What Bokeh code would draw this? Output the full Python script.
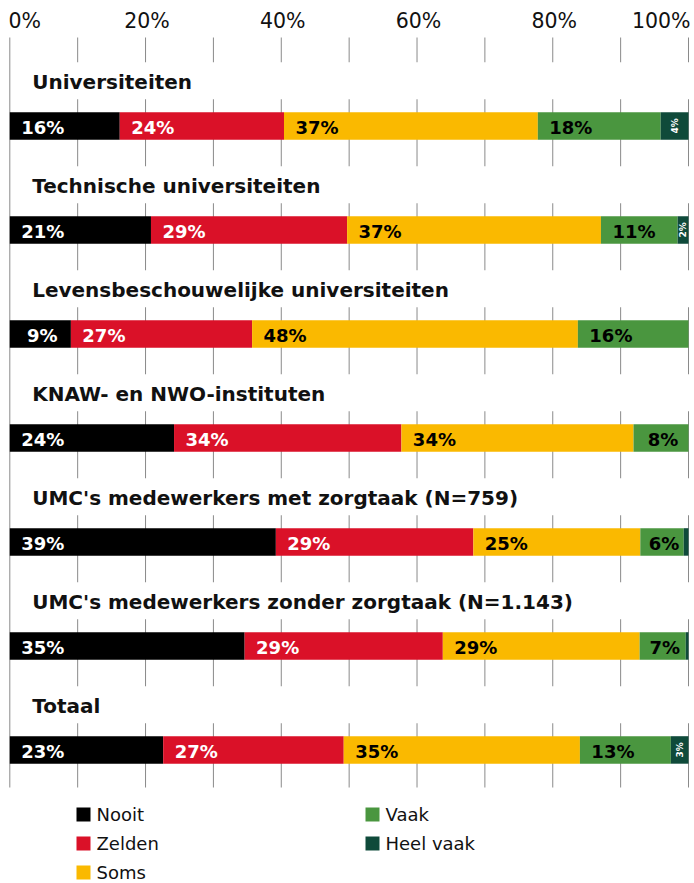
import math
from bokeh.plotting import figure
from bokeh.models import Range1d, ColumnDataSource
from bokeh.core.properties import value
from bokeh.embed import file_html
from bokeh.resources import INLINE

# ---------------- data ----------------
categories = [
    "Universiteiten",
    "Technische universiteiten",
    "Levensbeschouwelijke universiteiten",
    "KNAW- en NWO-instituten",
    "UMC's medewerkers met zorgtaak (N=759)",
    "UMC's medewerkers zonder zorgtaak (N=1.143)",
    "Totaal",
]
series = ["Nooit", "Zelden", "Soms", "Vaak", "Heel vaak"]
nooit = [16.2, 20.8, 9.0, 24.2, 39.2, 34.6, 22.6]
zelden = [24.2, 28.9, 26.7, 33.5, 29.1, 29.2, 26.6]
soms = [37.4, 37.4, 48.0, 34.2, 24.6, 29.0, 34.8]
vaak = [18.1, 11.3, 16.3, 8.1, 6.4, 6.8, 13.4]
heel_vaak = [4.1, 1.6, 0.0, 0.0, 0.7, 0.4, 2.6]
tick_values = [0, 20, 40, 60, 80, 100]
tick_labels = ["0%", "20%", "40%", "60%", "80%", "100%"]
grid_values = [0, 10, 20, 30, 40, 50, 60, 70, 80, 90, 100]

colors = ["#000000", "#DA1128", "#FAB900", "#4A963F", "#0F4A3A"]
label_colors = ["#FFFFFF", "#FFFFFF", "#000000", "#000000", "#FFFFFF"]

# ---------------- layout ----------------
W, H = 694, 883
X0 = 9.3             # canvas px of 0%
PX = (688 - X0) / 100  # pixels per percent
xs = -X0 / PX
xe = xs + W / PX
ROW0_TOP = 111.7
ROW_STEP = 104.0
BAR_H = 27.5
GRID_TOP, GRID_BOT = 37, 787
FONT = "DejaVu Sans"

p = figure(width=W, height=H, x_range=Range1d(xs, xe), y_range=Range1d(H, 0),
           output_backend="svg", toolbar_location=None, min_border=0)
p.axis.visible = False
p.grid.visible = False
p.outline_line_color = None
p.background_fill_color = "white"
p.border_fill_color = "white"

# grid lines
p.segment(x0=grid_values, x1=grid_values, y0=[GRID_TOP] * len(grid_values),
          y1=[GRID_BOT] * len(grid_values), line_color="#8a8a8a", line_width=1)

# title boxes covering gridlines
tops = [ROW0_TOP + ROW_STEP * i for i in range(len(categories))]
p.quad(left=[0.25] * len(tops), right=[xe] * len(tops),
       top=[t - 50 for t in tops], bottom=[t - 13 for t in tops],
       fill_color="white", line_color=None)

# category titles
p.text(x=[(31.7 - X0) / PX] * len(tops), y=[t - 30.5 for t in tops], text=categories,
       text_font=value(FONT), text_font_style="bold", text_font_size="20px",
       text_color="#111111", text_baseline="middle", text_align="left")

# bars
data = [nooit, zelden, soms, vaak, heel_vaak]
cum = [0.0] * len(categories)
big = dict(x=[], y=[], text=[], color=[])
small = dict(x=[], y=[], text=[])
for s, vals in enumerate(data):
    left = cum[:]
    right = [l + v for l, v in zip(left, vals)]
    centers = [t + BAR_H / 2 for t in tops]
    src = ColumnDataSource(dict(y=centers, left=left, right=right))
    p.hbar(y="y", left="left", right="right", height=BAR_H, source=src,
           fill_color=colors[s], line_color=None)
    for i, v in enumerate(vals):
        lbl = f"{int(v + 0.5)}%"
        if v >= 5:
            off = min(33.0, v * PX / 2 + 2)
            big["x"].append(left[i] + off / PX)
            big["y"].append(centers[i] + 2)
            big["text"].append(lbl)
            big["color"].append(label_colors[s])
        elif v >= 1:
            small["x"].append((left[i] + right[i]) / 2)
            small["y"].append(centers[i])
            small["text"].append(lbl)
    cum = right

p.text(x="x", y="y", text="text", text_color="color", source=ColumnDataSource(big),
       text_font=value(FONT), text_font_style="bold", text_font_size="18px",
       text_baseline="middle", text_align="center")
p.text(x="x", y="y", text="text", source=ColumnDataSource(small), angle=math.pi / 2,
       text_color="#FFFFFF", text_font=value(FONT), text_font_style="bold",
       text_font_size="9px", text_baseline="middle", text_align="center")

# top tick labels
n = len(tick_values)
aligns = ["left"] + ["center"] * (n - 2) + ["right"]
offs = [-1.3] + [1.5] * (n - 2) + [2]
p.text(x=tick_values, y=[20] * n, text=tick_labels, text_align=aligns, x_offset=offs,
       text_font=value(FONT), text_font_size="20.5px", text_color="#111111",
       text_baseline="middle")

# legend
leg_x = [(83 - X0) / PX, (372 - X0) / PX]
leg_y0, leg_dy = 814, 29.0
lx = [leg_x[i // 3] for i in range(len(series))]
ly = [leg_y0 + leg_dy * (i % 3) for i in range(len(series))]
p.scatter(x=lx, y=ly, marker="square", size=14, fill_color=colors, line_color=None)
p.text(x=[x + 13 / PX for x in lx], y=[y - 0.5 for y in ly], text=series,
       text_font=value(FONT), text_font_size="18px", text_color="#111111",
       text_baseline="middle", text_align="left")

open("out.html", "w").write(file_html(p, INLINE))
